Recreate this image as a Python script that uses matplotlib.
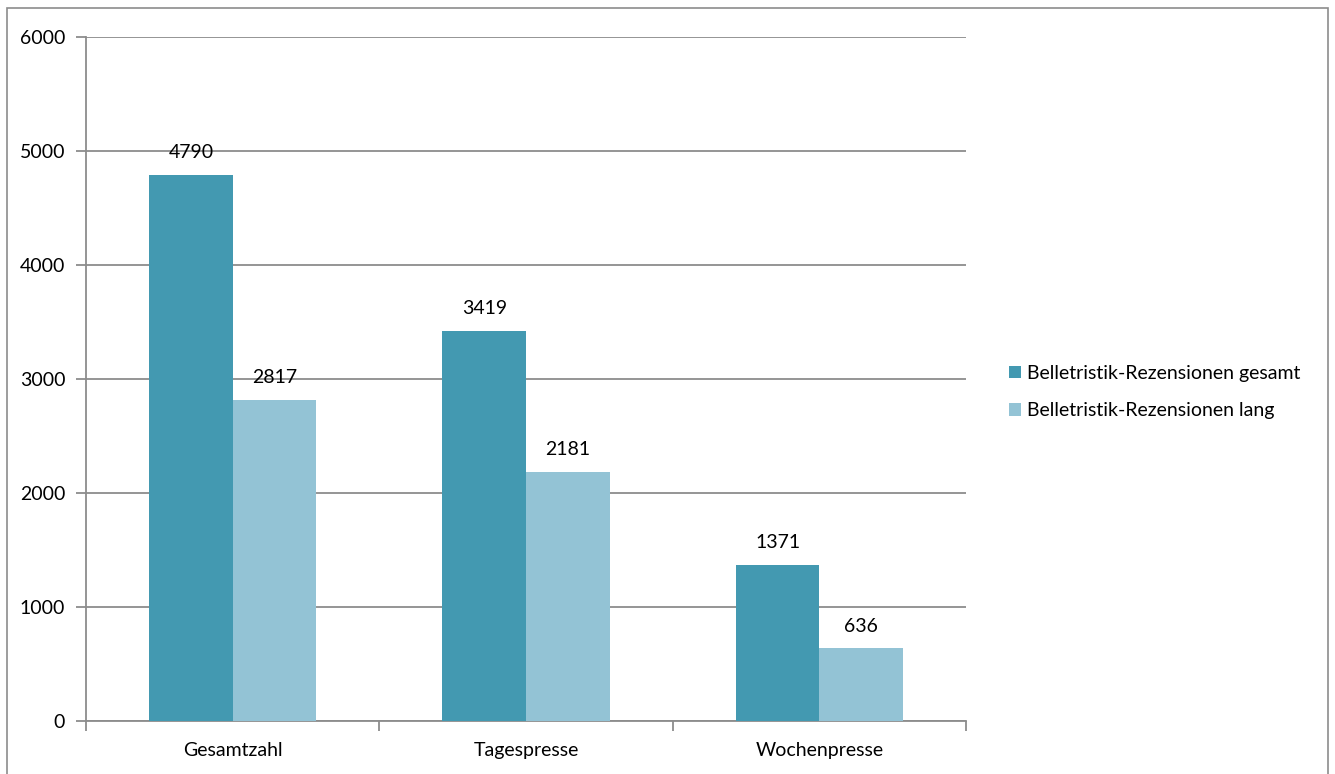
import matplotlib
matplotlib.use("Agg")
import matplotlib.pyplot as plt
from matplotlib.patches import Rectangle
import numpy as np

categories = ["Gesamtzahl", "Tagespresse", "Wochenpresse"]
series_names = ["Belletristik-Rezensionen gesamt", "Belletristik-Rezensionen lang"]
gesamt = [4790, 3419, 1371]
lang = [2817, 2181, 636]
y_ticks = [0, 1000, 2000, 3000, 4000, 5000, 6000]

colors = ["#4399B1", "#93C3D5"]
grid_color = "#8C8C8C"
fs = 14

plt.rcParams["font.family"] = ["Lato", "DejaVu Sans"]

W, H = 1335, 774
fig = plt.figure(figsize=(W / 100, H / 100), dpi=100)

# outer frame of the chart area
fig.patches.append(Rectangle((7 / W, -0.01), (1328 - 7) / W, 1 - 8 / H + 0.01,
                             transform=fig.transFigure, fill=False,
                             edgecolor="#8C8C8C", linewidth=1.2))

ax = fig.add_axes([86 / W, 1 - 721 / H, (966 - 86) / W, (721 - 37) / H])

x = np.arange(len(categories))
bw = 0.285
b1 = ax.bar(x - bw / 2, gesamt, bw, color=colors[0], label=series_names[0], zorder=3)
b2 = ax.bar(x + bw / 2, lang, bw, color=colors[1], label=series_names[1], zorder=3)

for bars, vals in ((b1, gesamt), (b2, lang)):
    for rect, v in zip(bars, vals):
        ax.annotate(f"{v}", (rect.get_x() + rect.get_width() / 2, v),
                    xytext=(0, 10), textcoords="offset points",
                    ha="center", va="bottom", fontsize=fs, color="#000000")

ax.set_xlim(-0.5, len(categories) - 0.5)
ax.set_ylim(0, 6000)
ax.set_yticks(y_ticks)
ax.set_yticklabels([str(t) for t in y_ticks], fontsize=fs)
ax.yaxis.grid(True, color=grid_color, linewidth=1.3, zorder=0)
ax.set_axisbelow(True)

ax.set_xticks(x)
ax.set_xticklabels(categories, fontsize=fs)
ax.tick_params(axis="x", length=0, pad=15)
# category boundary ticks on the x axis
ax.set_xticks(np.arange(-0.5, len(categories), 1.0), minor=True)
ax.tick_params(axis="x", which="minor", length=7, color=grid_color, width=1.3)
ax.tick_params(axis="y", length=7, color=grid_color, width=1.3, pad=8)

for side in ("top", "right"):
    ax.spines[side].set_visible(False)
for side in ("left", "bottom"):
    ax.spines[side].set_color(grid_color)
    ax.spines[side].set_linewidth(1.3)

fig.legend(handles=[b1, b2], labels=series_names, loc="center left",
           bbox_to_anchor=(992 / W, 1 - 392 / H), frameon=False,
           fontsize=fs, handlelength=0.6, handleheight=0.6,
           handletextpad=0.3, labelspacing=1.05)

fig.savefig("out.png", dpi=100)
